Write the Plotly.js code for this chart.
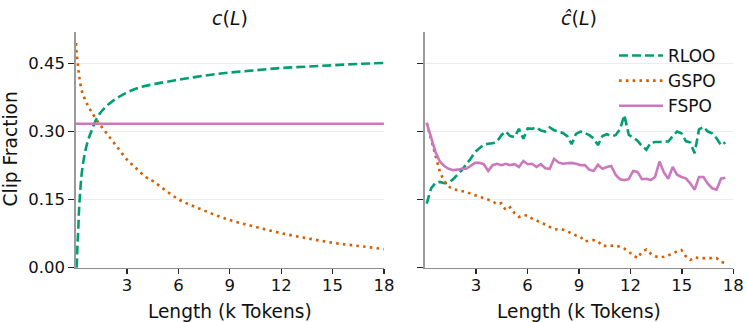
<!DOCTYPE html>
<html>
<head>
<meta charset="utf-8">
<script src="https://cdn.plot.ly/plotly-3.0.1.min.js"></script>
<style>
  html, body { margin: 0; padding: 0; background: #fff; }
  #chart { width: 747px; height: 322px; }
</style>
</head>
<body>
<div id="chart"></div>
<script>
// left panel: c(L), theoretical curves
const rlooTheoryX = [0.06, 0.1, 0.15, 0.2, 0.27, 0.36, 0.5, 0.7, 0.95, 1.29, 1.77, 2.55, 3.63, 4.65, 6, 7.5, 9, 10.5, 12, 13.5, 15, 16.5, 18];
const rlooTheoryY = [0.0, 0.045, 0.083, 0.13, 0.171, 0.21, 0.245, 0.278, 0.304, 0.333, 0.355, 0.377, 0.396, 0.405, 0.414, 0.423, 0.43, 0.435, 0.44, 0.443, 0.446, 0.449, 0.451];
const gspoTheoryX = [0.02, 0.06, 0.12, 0.21, 0.37, 0.6, 0.85, 1.29, 1.81, 2.4, 3, 3.53, 4.1, 4.54, 6, 7.5, 9, 10.5, 12, 13.5, 15, 16.5, 18];
const gspoTheoryY = [0.495, 0.47, 0.451, 0.421, 0.388, 0.366, 0.348, 0.322, 0.296, 0.267, 0.238, 0.219, 0.2, 0.19, 0.151, 0.126, 0.105, 0.09, 0.076, 0.065, 0.055, 0.048, 0.041];
const fspoTheoryX = [0, 18];
const fspoTheoryY = [0.317, 0.317];

// right panel: ĉ(L), measured per length bin (k tokens)
const binX = [0.128, 0.384, 0.64, 0.896, 1.152, 1.408, 1.664, 1.92, 2.176, 2.432,
  2.688, 2.944, 3.2, 3.456, 3.712, 3.968, 4.224, 4.48, 4.736, 4.992,
  5.248, 5.504, 5.76, 6.016, 6.272, 6.528, 6.784, 7.04, 7.296, 7.552,
  7.808, 8.064, 8.32, 8.576, 8.832, 9.088, 9.344, 9.6, 9.856, 10.112,
  10.368, 10.624, 10.88, 11.136, 11.392, 11.648, 11.904, 12.16, 12.416, 12.672,
  12.928, 13.184, 13.44, 13.696, 13.952, 14.208, 14.464, 14.72, 14.976, 15.232,
  15.488, 15.744, 16.0, 16.256, 16.512, 16.768, 17.024, 17.28, 17.536];
const rlooEmp = [0.141, 0.175, 0.187, 0.189, 0.186, 0.187, 0.195, 0.205, 0.215, 0.228,
  0.24, 0.255, 0.264, 0.271, 0.273, 0.274, 0.278, 0.292, 0.30, 0.29,
  0.288, 0.306, 0.284, 0.307, 0.306, 0.309, 0.302, 0.30, 0.309, 0.303,
  0.30, 0.297, 0.29, 0.272, 0.295, 0.30, 0.297, 0.292, 0.285, 0.27,
  0.29, 0.294, 0.29, 0.292, 0.305, 0.336, 0.293, 0.286, 0.28, 0.268,
  0.26, 0.275, 0.277, 0.277, 0.277, 0.278, 0.29, 0.30, 0.296, 0.279,
  0.276, 0.252, 0.305, 0.31, 0.30, 0.296, 0.285, 0.27, 0.276];
const gspoEmp = [0.319, 0.285, 0.245, 0.211, 0.19, 0.179, 0.173, 0.171, 0.17, 0.167,
  0.163, 0.16, 0.157, 0.153, 0.15, 0.146, 0.14, 0.142, 0.127, 0.133,
  0.12, 0.112, 0.116, 0.115, 0.108, 0.104, 0.1, 0.095, 0.09, 0.085,
  0.084, 0.084, 0.08, 0.075, 0.071, 0.068, 0.058, 0.06, 0.061, 0.058,
  0.048, 0.048, 0.049, 0.049, 0.046, 0.042, 0.035, 0.028, 0.021, 0.035,
  0.04, 0.031, 0.025, 0.023, 0.024, 0.027, 0.032, 0.036, 0.039, 0.025,
  0.017, 0.023, 0.021, 0.021, 0.021, 0.021, 0.021, 0.013, 0.01];
const fspoEmp = [0.319, 0.285, 0.255, 0.234, 0.224, 0.218, 0.215, 0.216, 0.218, 0.218,
  0.224, 0.231, 0.231, 0.228, 0.213, 0.226, 0.229, 0.226, 0.229, 0.226,
  0.228, 0.222, 0.235, 0.228, 0.229, 0.222, 0.228, 0.219, 0.218, 0.24,
  0.232, 0.229, 0.23, 0.231, 0.229, 0.226, 0.226, 0.216, 0.213, 0.227,
  0.218, 0.222, 0.224, 0.205, 0.195, 0.193, 0.195, 0.213, 0.211, 0.195,
  0.196, 0.193, 0.2, 0.234, 0.21, 0.196, 0.222, 0.205, 0.2, 0.197,
  0.186, 0.172, 0.2, 0.2, 0.185, 0.175, 0.172, 0.196, 0.198];

const xTicks = [3, 6, 9, 12, 15, 18];
const yTicks = [0, 0.15, 0.30, 0.45];
const yTickText = ['0.00', '0.15', '0.30', '0.45'];

const green = '#029e73', orange = '#d55e00', pink = '#cc78bc';
const dashed = '9px,4px', dotted = '2.6px,4.2px';
const lw = 2.6;

const data = [
  {x: rlooTheoryX, y: rlooTheoryY, xaxis: 'x', yaxis: 'y', type: 'scatter', mode: 'lines',
   line: {color: green, width: lw, dash: dashed, shape: 'spline'}, showlegend: false},
  {x: gspoTheoryX, y: gspoTheoryY, xaxis: 'x', yaxis: 'y', type: 'scatter', mode: 'lines',
   line: {color: orange, width: lw, dash: dotted, shape: 'spline'}, showlegend: false},
  {x: fspoTheoryX, y: fspoTheoryY, xaxis: 'x', yaxis: 'y', type: 'scatter', mode: 'lines',
   line: {color: pink, width: lw}, showlegend: false},
  {x: binX, y: rlooEmp, xaxis: 'x2', yaxis: 'y2', type: 'scatter', mode: 'lines', name: 'RLOO',
   line: {color: green, width: lw, dash: dashed}},
  {x: binX, y: gspoEmp, xaxis: 'x2', yaxis: 'y2', type: 'scatter', mode: 'lines', name: 'GSPO',
   line: {color: orange, width: lw, dash: dotted}},
  {x: binX, y: fspoEmp, xaxis: 'x2', yaxis: 'y2', type: 'scatter', mode: 'lines', name: 'FSPO',
   line: {color: pink, width: lw}}
];

const xCommon = {
  range: [0, 18], tickvals: xTicks, ticks: 'outside', ticklen: 5, tickwidth: 1.3,
  tickcolor: '#262626', showline: true, linecolor: '#8c8c8c', linewidth: 1.3,
  showgrid: false, zeroline: false, automargin: false, ticklabelstandoff: -3,
  tickfont: {size: 16.5, color: '#111'}
};
const yCommon = {
  range: [0, 0.52], tickvals: yTicks, ticktext: yTickText, ticks: 'outside', ticklen: 6,
  tickwidth: 1.3, tickcolor: '#262626', showline: true, linecolor: '#9a9a9a', linewidth: 1.3,
  showgrid: true, gridcolor: '#ececec', gridwidth: 1.3, zeroline: false, automargin: false,
  domain: [0.1686, 0.9016], tickfont: {size: 16.5, color: '#111'}
};

const layout = {
  width: 747, height: 322,
  margin: {l: 0, r: 0, t: 0, b: 0},
  paper_bgcolor: '#fff', plot_bgcolor: '#fff',
  font: {family: 'DejaVu Sans', size: 18, color: '#111'},
  xaxis: Object.assign({}, xCommon, {domain: [0.1013, 0.514], anchor: 'y',
    title: {text: 'Length (k Tokens)', font: {size: 18.6}}}),
  xaxis2: Object.assign({}, xCommon, {domain: [0.5683, 0.9817], anchor: 'y2',
    title: {text: 'Length (k Tokens)', font: {size: 18.6}}}),
  yaxis: Object.assign({}, yCommon, {anchor: 'x'}),
  yaxis2: Object.assign({}, yCommon, {anchor: 'x2', showticklabels: false}),
  annotations: [
    {text: '<i>c</i>(<i>L</i>)', xref: 'paper', yref: 'paper', x: 0.3077, y: 1 - 17.5 / 322,
     xanchor: 'center', yanchor: 'middle', showarrow: false, font: {size: 19}},
    {text: '<i>ĉ</i>(<i>L</i>)', xref: 'paper', yref: 'paper', x: 0.775, y: 1 - 17.5 / 322,
     xanchor: 'center', yanchor: 'middle', showarrow: false, font: {size: 19}},
    {text: 'Clip Fraction', xref: 'paper', yref: 'paper', x: 10.5 / 747, y: 1 - 149 / 322,
     xanchor: 'center', yanchor: 'middle', textangle: -90, showarrow: false, font: {size: 18.6}}
  ],
  showlegend: true,
  legend: {x: 0.822, y: 1 - 38 / 322, xanchor: 'left', yanchor: 'top',
    bgcolor: 'rgba(0,0,0,0)', borderwidth: 0, font: {size: 17}, itemwidth: 44,
    tracegroupgap: 0}
};

Plotly.newPlot('chart', data, layout, {staticPlot: true});
</script>
</body>
</html>
